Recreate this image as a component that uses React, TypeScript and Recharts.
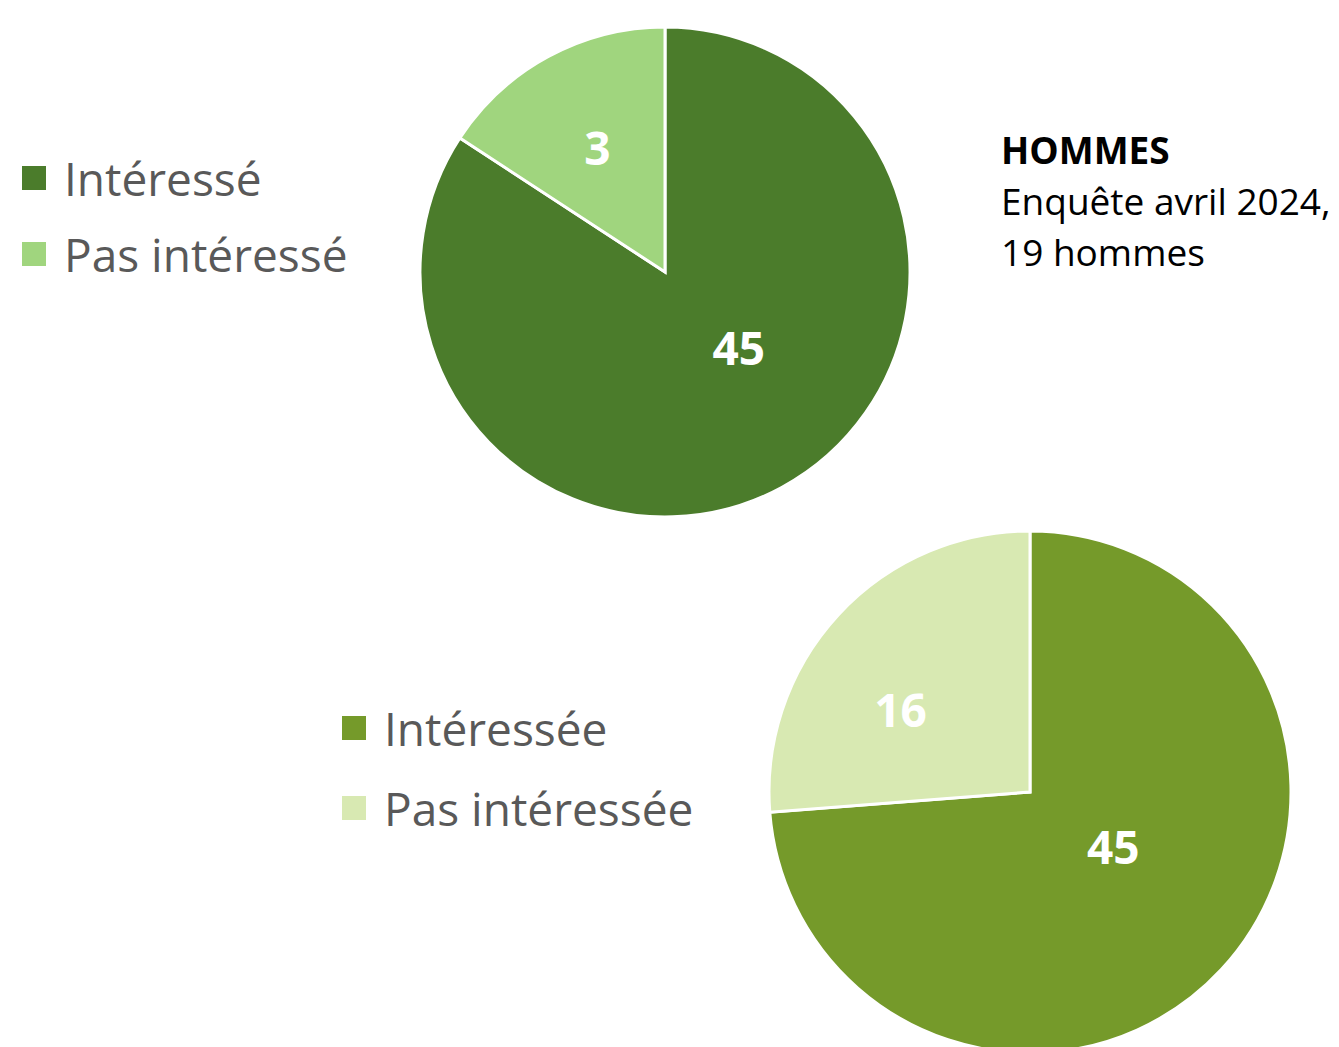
import React from "react";
import { PieChart, Pie, Cell, Legend } from "recharts";

// Top chart (men)
const topCategories = ["Intéressé", "Pas intéressé"];
const topValues = [16, 3];
const topPrintedLabels = ["45", "3"];
const topColors = ["#4b7c2b", "#a0d57e"];

// Bottom chart (women)
const bottomCategories = ["Intéressée", "Pas intéressée"];
const bottomValues = [45, 16];
const bottomPrintedLabels = ["45", "16"];
const bottomColors = ["#759a2a", "#d8e9b2"];

const titleLines = ["HOMMES", "Enquête avril 2024,", "19 hommes"];

const FONT = "'Open Sans', 'Noto Sans', sans-serif";
const RAD = Math.PI / 180;
const MARGIN = { top: 0, right: 0, bottom: 0, left: 0 };

// label placement style (radial fraction, angular nudge in degrees) per slice
type LabelPlace = { f: number; dA: number };
const topLabelPlace: LabelPlace[] = [
  { f: 0.43, dA: 16 },
  { f: 0.58, dA: 0 },
];
const bottomLabelPlace: LabelPlace[] = [
  { f: 0.38, dA: 10 },
  { f: 0.59, dA: 10 },
];

const makeLabel = (printed: string[], place: LabelPlace[]) => (props: any) => {
  const { cx, cy, midAngle, outerRadius, index } = props;
  const p = place[index];
  const r = outerRadius * p.f;
  const a = midAngle + p.dA;
  const x = cx + r * Math.cos(-a * RAD);
  const y = cy + r * Math.sin(-a * RAD);
  return (
    <text
      x={x}
      y={y}
      fill="#ffffff"
      fontFamily={FONT}
      fontWeight={700}
      fontSize={46}
      textAnchor="middle"
      dominantBaseline="central"
    >
      {printed[index]}
    </text>
  );
};

const makeLegend = (cats: string[], colors: string[], gap: number) => () => (
  <div style={{ fontFamily: FONT }}>
    {cats.map((c, i) => (
      <div
        key={c}
        style={{
          display: "flex",
          alignItems: "center",
          height: gap,
          color: "#595959",
          fontSize: 46,
          whiteSpace: "nowrap",
        }}
      >
        <span
          style={{
            display: "inline-block",
            width: 24,
            height: 24,
            background: colors[i],
            marginRight: 18,
          }}
        />
        {c}
      </div>
    ))}
  </div>
);

export default function App() {
  const topData = topCategories.map((name, i) => ({ name, value: topValues[i] }));
  const bottomData = bottomCategories.map((name, i) => ({ name, value: bottomValues[i] }));
  return (
    <div
      style={{
        position: "absolute",
        left: 0,
        top: 0,
        width: 1339,
        height: 1047,
        overflow: "hidden",
        background: "#ffffff",
      }}
    >
      <div style={{ position: "absolute", left: 0, top: 0 }}>
        <PieChart width={1339} height={540} margin={MARGIN}>
          <Pie
            data={topData}
            dataKey="value"
            nameKey="name"
            cx={665}
            cy={272}
            outerRadius={245}
            startAngle={90}
            endAngle={-270}
            stroke="#ffffff"
            strokeWidth={3}
            isAnimationActive={false}
            label={makeLabel(topPrintedLabels, topLabelPlace)}
            labelLine={false}
          >
            {topData.map((d, i) => (
              <Cell key={d.name} fill={topColors[i]} />
            ))}
          </Pie>
          <Legend
            layout="horizontal"
            align="center"
            verticalAlign="middle"
            content={makeLegend(topCategories, topColors, 76)}
            wrapperStyle={{ left: 22, top: 140, width: 400 }}
          />
        </PieChart>
      </div>
      <div style={{ position: "absolute", left: 0, top: 520 }}>
        <PieChart width={1339} height={527} margin={MARGIN}>
          <Pie
            data={bottomData}
            dataKey="value"
            nameKey="name"
            cx={1030}
            cy={272}
            outerRadius={261}
            startAngle={90}
            endAngle={-270}
            stroke="#ffffff"
            strokeWidth={3}
            isAnimationActive={false}
            label={makeLabel(bottomPrintedLabels, bottomLabelPlace)}
            labelLine={false}
          >
            {bottomData.map((d, i) => (
              <Cell key={d.name} fill={bottomColors[i]} />
            ))}
          </Pie>
          <Legend
            layout="horizontal"
            align="center"
            verticalAlign="middle"
            content={makeLegend(bottomCategories, bottomColors, 80)}
            wrapperStyle={{ left: 342, top: 168, width: 400 }}
          />
        </PieChart>
      </div>
      <div
        style={{
          position: "absolute",
          left: 1001,
          top: 124,
          fontFamily: FONT,
          fontSize: 37,
          lineHeight: "51px",
          color: "#000000",
          whiteSpace: "nowrap",
        }}
      >
        {titleLines.map((t, i) => (
          <div key={t} style={{ fontWeight: i === 0 ? 700 : 400 }}>
            {t}
          </div>
        ))}
      </div>
    </div>
  );
}
